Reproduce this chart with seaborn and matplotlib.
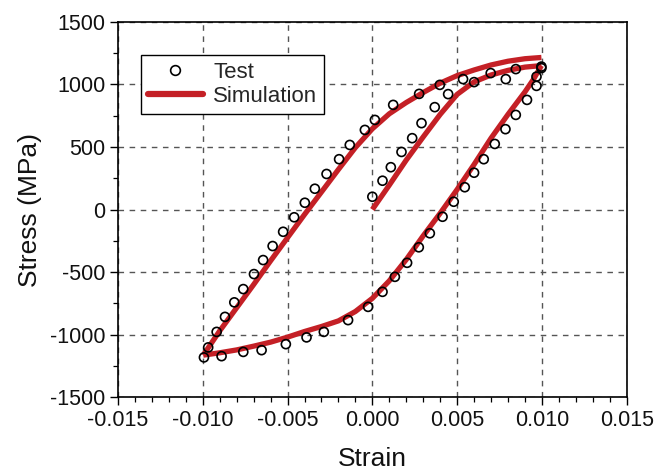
import numpy as np
import pandas as pd
import matplotlib
matplotlib.use("Agg")
import matplotlib.pyplot as plt
from matplotlib.lines import Line2D
import seaborn as sns

# ---------------- data ----------------
# Simulation: initial loading branch
sim_init_strain = [0.0, 0.001, 0.002, 0.003, 0.004, 0.005, 0.006, 0.007, 0.008, 0.009, 0.00997]
sim_init_stress = [0, 195, 395, 580, 760, 920, 1020, 1075, 1112, 1138, 1150]

# Simulation: unloading branch (tension peak -> compression peak)
sim_unl_strain = [0.00997, 0.0095, 0.009, 0.008, 0.007, 0.006, 0.005, 0.004, 0.003, 0.002,
                  0.001, 0.0, -0.001, -0.002, -0.003, -0.004, -0.005, -0.006, -0.007,
                  -0.008, -0.009, -0.00997]
sim_unl_stress = [1150, 1040, 940, 760, 570, 360, 160, -30, -210, -400,
                  -570, -710, -815, -890, -935, -975, -1020, -1060, -1092,
                  -1122, -1145, -1164]

# Simulation: reloading branch (compression peak -> tension)
sim_rel_strain = [-0.00997, -0.0095, -0.009, -0.008, -0.007, -0.006, -0.005, -0.004, -0.003,
                  -0.002, -0.001, 0.0, 0.001, 0.002, 0.003, 0.004, 0.005, 0.006, 0.007,
                  0.008, 0.009, 0.00997]
sim_rel_stress = [-1164, -1070, -970, -785, -600, -410, -225, -40, 140,
                  320, 495, 645, 765, 855, 935, 1010, 1070, 1115, 1155,
                  1185, 1205, 1215]

# Test points
test_init_strain = [0.0, 0.0006, 0.00109, 0.00172, 0.00235, 0.0029, 0.00368, 0.00447, 0.006, 0.00787, 0.00968]
test_init_stress = [102, 230, 338, 460, 570, 690, 818, 922, 1018, 1042, 1062]

test_unl_strain = [0.00997, 0.00968, 0.00912, 0.00846, 0.00785, 0.00722, 0.00657, 0.006, 0.00545,
                   0.0048, 0.00414, 0.00339, 0.00274, 0.00205, 0.00133, 0.0006, -0.00025,
                   -0.00143, -0.00286, -0.00388, -0.0051, -0.00653, -0.00761, -0.00889, -0.00993]
test_unl_stress = [1130, 988, 876, 756, 642, 524, 402, 294, 178,
                   62, -58, -190, -302, -426, -538, -658, -778,
                   -884, -978, -1022, -1076, -1124, -1138, -1172, -1182]

test_rel_strain = [-0.00968, -0.00918, -0.00869, -0.00814, -0.00761, -0.00698, -0.00644, -0.00588,
                   -0.00526, -0.00461, -0.00398, -0.00339, -0.0027, -0.00196, -0.00133, -0.00044,
                   0.00015, 0.00123, 0.00276, 0.00398, 0.00535, 0.00698, 0.00846, 0.00997]
test_rel_stress = [-1102, -978, -858, -742, -636, -516, -404, -292,
                   -178, -62, 54, 166, 284, 402, 516, 636,
                   716, 836, 924, 996, 1042, 1090, 1122, 1142]

x_ticks = [-0.015, -0.010, -0.005, 0.000, 0.005, 0.010, 0.015]
y_ticks = [-1500, -1000, -500, 0, 500, 1000, 1500]

# ---------------- style ----------------
sns.set_theme(style="white")
plt.rcParams["font.family"] = ["Liberation Sans", "DejaVu Sans"]

RED = "#c42026"
TXT = "#111111"

fig = plt.figure(figsize=(6.59, 4.74), dpi=100)
ax = fig.add_axes([0.179, 0.162, 0.772, 0.792])

sim_df = pd.concat([
    pd.DataFrame({"Strain": sim_init_strain, "Stress": sim_init_stress, "branch": "init"}),
    pd.DataFrame({"Strain": sim_unl_strain, "Stress": sim_unl_stress, "branch": "unload"}),
    pd.DataFrame({"Strain": sim_rel_strain, "Stress": sim_rel_stress, "branch": "reload"}),
], ignore_index=True)

for br in ["init", "unload", "reload"]:
    d = sim_df[sim_df["branch"] == br]
    sns.lineplot(data=d, x="Strain", y="Stress", sort=False, estimator=None,
                 color=RED, linewidth=3.8, ax=ax, zorder=2,
                 solid_capstyle="butt", solid_joinstyle="round")

test_df = pd.DataFrame({
    "Strain": test_init_strain + test_unl_strain + test_rel_strain,
    "Stress": test_init_stress + test_unl_stress + test_rel_stress,
})
sns.scatterplot(data=test_df, x="Strain", y="Stress", marker="o", s=42,
                facecolor="none", edgecolor="black", linewidth=1.2, ax=ax, zorder=3)

ax.set_xlim(-0.015, 0.015)
ax.set_ylim(-1500, 1500)
ax.set_xticks(x_ticks)
ax.set_xticklabels([f"{v:.3f}" for v in x_ticks])
ax.set_yticks(y_ticks)
ax.set_yticklabels([str(v) for v in y_ticks])
ax.set_xticks(np.arange(-0.015, 0.0151, 0.001), minor=True)
ax.set_yticks(np.arange(-1500, 1501, 250), minor=True)

ax.tick_params(axis="both", which="major", direction="out", length=6, width=1.0,
               labelsize=15.5, color="black", labelcolor=TXT, pad=3,
               bottom=True, left=True, top=False, right=False)
ax.tick_params(axis="both", which="minor", direction="out", length=3.5, width=0.9,
               color="black", bottom=True, left=True, top=False, right=False)

ax.grid(True, which="major", linestyle=(0, (4, 4)), color="#555555", linewidth=1.0)
for sp in ax.spines.values():
    sp.set_visible(True)
    sp.set_color("black")
    sp.set_linewidth(1.2)

ax.set_xlabel("Strain", fontsize=19, color=TXT, labelpad=12)
ax.set_ylabel("Stress (MPa)", fontsize=19, color=TXT, labelpad=6)

handles = [
    Line2D([], [], linestyle="none", marker="o", markerfacecolor="none",
           markeredgecolor="black", markersize=7, markeredgewidth=1.2),
    Line2D([], [], color=RED, linewidth=4.5),
]
leg = ax.legend(handles, ["Test", "Simulation"], loc="upper left",
                bbox_to_anchor=(0.045, 0.912), fontsize=16, frameon=True,
                fancybox=False, edgecolor="black", framealpha=1,
                handlelength=2.5, handletextpad=0.45, borderpad=0.3,
                labelspacing=0.15, borderaxespad=0)
leg.get_frame().set_linewidth(1.0)

fig.savefig("out.png", dpi=100)
